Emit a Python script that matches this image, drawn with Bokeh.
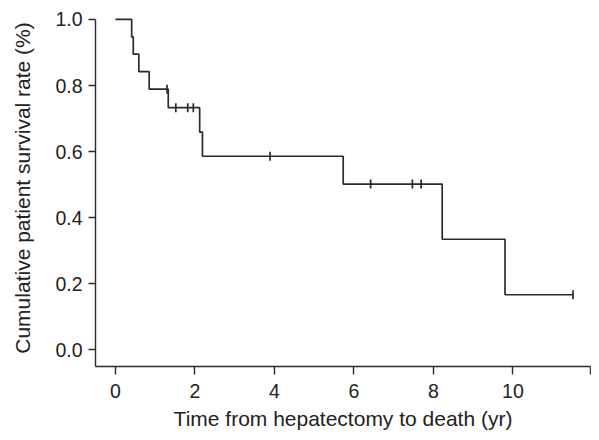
import numpy as np
from bokeh.plotting import figure
from bokeh.models import FixedTicker, Range1d, CustomJSTickFormatter
from bokeh.embed import file_html
from bokeh.resources import INLINE

# Kaplan-Meier step data
step_times = [0.0, 0.41, 0.45, 0.59, 0.85, 1.33, 2.12, 2.19, 5.73, 8.22, 9.80, 11.51]
step_surv = [1.0, 0.947, 0.895, 0.842, 0.789, 0.733, 0.659, 0.586, 0.502, 0.335, 0.167, 0.167]
censor_times = [1.30, 1.52, 1.82, 1.96, 3.89, 6.42, 7.47, 7.69, 11.51]

x_ticks = [0, 2, 4, 6, 8, 10, 11.95]
y_ticks = [0.0, 0.2, 0.4, 0.6, 0.8, 1.0]

# survival level at each censor time (value of the step curve there)
idx = np.searchsorted(step_times, censor_times, side="right") - 1
censor_surv = [step_surv[i] for i in idx]

FONT = "Liberation Sans"
TXT = "#222222"
LINE = "#2b2b2b"

p = figure(width=591, height=432, output_backend="svg", toolbar_location=None,
           x_range=Range1d(-0.5, 11.95), y_range=Range1d(-0.05, 1.03),
           min_border_left=95, min_border_right=1, min_border_top=9,
           min_border_bottom=64)
p.outline_line_color = None
p.grid.grid_line_color = None
p.background_fill_color = "white"
p.border_fill_color = "white"

p.step(step_times, step_surv, mode="after", line_color=LINE, line_width=1.7)
p.scatter(censor_times, censor_surv, marker="dash", angle=np.pi / 2, size=9,
          line_color=LINE, line_width=1.7)

xa = p.xaxis[0]
xa.ticker = FixedTicker(ticks=x_ticks)
xa.major_label_overrides = {11.95: ""}
xa.bounds = (-0.5, 11.95)
ya = p.yaxis[0]
ya.ticker = FixedTicker(ticks=y_ticks)
ya.bounds = (-0.05, 1.0)
ya.formatter = CustomJSTickFormatter(code="return tick.toFixed(1);")

xa.axis_label = "Time from hepatectomy to death (yr)"
ya.axis_label = "Cumulative patient survival rate (%)"

for ax in (xa, ya):
    ax.axis_line_color = LINE
    ax.axis_line_width = 1.4
    ax.major_tick_line_color = LINE
    ax.major_tick_line_width = 1.4
    ax.major_tick_out = 8
    ax.major_tick_in = 0
    ax.minor_tick_line_color = None
    ax.major_label_text_font = FONT
    ax.major_label_text_font_size = "19.5px"
    ax.major_label_text_color = TXT
    ax.axis_label_text_font = FONT
    ax.axis_label_text_font_size = "21px"
    ax.axis_label_text_font_style = "normal"
    ax.axis_label_text_color = TXT

xa.major_label_standoff = 9
xa.axis_label_standoff = 6
ya.major_tick_out = 7
ya.major_label_standoff = 6
ya.axis_label_standoff = 18

open("out.html", "w").write(file_html(p, INLINE))
